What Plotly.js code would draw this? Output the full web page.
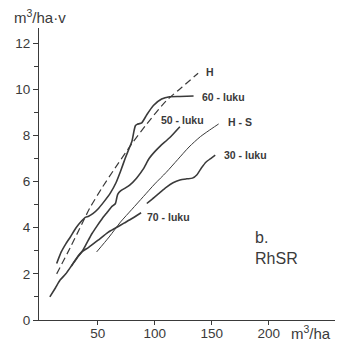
<!DOCTYPE html>
<html>
<head>
<meta charset="utf-8">
<script src="https://cdn.plot.ly/plotly-3.0.1.min.js"></script>
<style>html,body{margin:0;padding:0;background:#fff}#chart{width:340px;height:342px}</style>
</head>
<body>
<div id="chart"></div>
<script>
// Curve H (dashed)
const hX = [14, 26, 36, 43, 54, 64, 80, 93, 110, 124, 138];
const hY = [2.0, 3.15, 4.15, 4.85, 5.75, 6.5, 7.65, 8.5, 9.5, 10.1, 10.7];
// 60-luku
const l60X = [14, 18, 22, 26, 31, 36, 39, 42, 46, 50, 55, 61, 66, 70, 74, 78, 80, 81.8, 83, 84.5, 88.6, 93, 98.8, 106, 113, 122, 134];
const l60Y = [2.45, 2.95, 3.3, 3.6, 4.0, 4.3, 4.45, 4.5, 4.62, 4.8, 5.1, 5.5, 5.95, 6.45, 7.0, 7.5, 7.75, 8.2, 8.42, 8.48, 8.55, 8.9, 9.3, 9.58, 9.68, 9.69, 9.71];
// 50-luku
const l50X = [8, 13, 17, 22, 27, 32, 36, 40, 45, 49, 54, 58, 62, 65.5, 66.7, 67.5, 70, 74, 78, 84, 90, 95, 100, 105, 113, 122];
const l50Y = [1.0, 1.4, 1.73, 2.0, 2.35, 2.7, 2.95, 3.3, 3.75, 4.05, 4.4, 4.65, 4.9, 5.05, 5.3, 5.45, 5.6, 5.72, 5.85, 6.15, 6.55, 7.0, 7.3, 7.55, 7.9, 8.38];
// H-S
const hsX = [49, 60, 70, 80, 90, 100, 110, 120, 130, 140, 150, 156];
const hsY = [2.95, 3.6, 4.25, 4.8, 5.35, 5.9, 6.4, 6.95, 7.5, 7.95, 8.3, 8.5];
// 30-luku
const l30X = [93, 98, 104, 110, 116, 122, 128, 133, 137, 141, 145, 149, 153];
const l30Y = [5.05, 5.25, 5.5, 5.75, 5.95, 6.07, 6.12, 6.15, 6.3, 6.6, 6.85, 7.0, 7.15];
// 70-luku
const l70X = [27, 31, 36, 42, 50, 59, 66, 73, 80, 88];
const l70Y = [2.35, 2.65, 2.95, 3.15, 3.45, 3.8, 4.0, 4.2, 4.4, 4.65];

// Labels
const labelText = ["H", "60 - luku", "50 - luku", "H - S", "30 - luku", "70 - luku"];
const labelX = [143, 139.5, 104, 162, 158.5, 91];
const labelY = [10.75, 9.67, 8.67, 8.59, 7.16, 4.47];
const yTicks = [0, 2, 4, 6, 8, 10, 12];
const xTicks = [50, 100, 150, 200];

const ink = '#3a3a3a';
const fam = 'Liberation Sans, Arial, sans-serif';
function tr(x, y, w, dash, sm) {
  return {x: x, y: y, mode: 'lines', type: 'scatter', hoverinfo: 'skip',
    line: {color: ink, width: w, dash: dash || 'solid', shape: 'spline', smoothing: sm == null ? 0.7 : sm}};
}
const data = [
  tr(hX, hY, 1.2, '7px,4px'),
  tr(l60X, l60Y, 1.6, null, 0.5),
  tr(l50X, l50Y, 1.6, null, 0.5),
  tr(hsX, hsY, 1.0),
  tr(l30X, l30Y, 1.5),
  tr(l70X, l70Y, 1.6)
];

const W = 340, H = 342, ml = 39, mr = 5, mt = 28, mb = 22;
const pw = W - ml - mr, ph = H - mt - mb;

const annotations = labelText.map((t, i) => ({
  x: labelX[i], y: labelY[i], xref: 'x', yref: 'y', text: t, showarrow: false,
  xanchor: 'left', yanchor: 'middle', font: {size: 10.5, color: ink, family: fam, weight: 600}
}));
annotations.push({x: 186, y: 3.58, xref: 'x', yref: 'y', text: 'b.', showarrow: false, xanchor: 'left', yanchor: 'middle',
  font: {size: 16, color: ink, family: fam}});
annotations.push({x: 186, y: 2.66, xref: 'x', yref: 'y', text: 'RhSR', showarrow: false, xanchor: 'left', yanchor: 'middle',
  font: {size: 16, color: ink, family: fam}});
annotations.push({
  x: (12 - ml) / pw, y: (H - mb - 16) / ph, xref: 'paper', yref: 'paper', text: 'm<sup>3</sup>/ha·v',
  showarrow: false, xanchor: 'left', yanchor: 'middle', font: {size: 15, color: ink, family: fam}
});
annotations.push({
  x: (289 - ml) / pw, y: (H - mb - 332) / ph, xref: 'paper', yref: 'paper', text: 'm<sup>3</sup>/ha',
  showarrow: false, xanchor: 'left', yanchor: 'middle', font: {size: 15, color: ink, family: fam}
});

const layout = {
  width: W, height: H,
  margin: {l: ml, r: mr, t: mt, b: mb, pad: 0},
  paper_bgcolor: '#fff', plot_bgcolor: '#fff',
  showlegend: false,
  font: {family: fam, size: 13, color: ink},
  xaxis: {range: [-1.5, 258], showline: true, linecolor: ink, linewidth: 1, zeroline: false, showgrid: false,
    tickmode: 'array', tickvals: xTicks, ticktext: xTicks.map(String), ticks: 'outside', ticklen: 4, tickcolor: ink,
    ticklabelstandoff: -3,
    tickfont: {size: 13.5, color: ink}},
  yaxis: {range: [0, 12.66], showline: true, linecolor: ink, linewidth: 1, zeroline: false, showgrid: false,
    tickmode: 'array', tickvals: yTicks, ticktext: yTicks.map(String), ticks: 'outside', ticklen: 5, tickcolor: ink,
    tickfont: {size: 13.5, color: ink},
    minor: {tickvals: [1, 3, 5, 7, 9, 11], ticks: 'outside', ticklen: 4, tickcolor: ink, showgrid: false}},
  annotations: annotations
};
Plotly.newPlot('chart', data, layout, {staticPlot: true, displayModeBar: false});
</script>
</body>
</html>
